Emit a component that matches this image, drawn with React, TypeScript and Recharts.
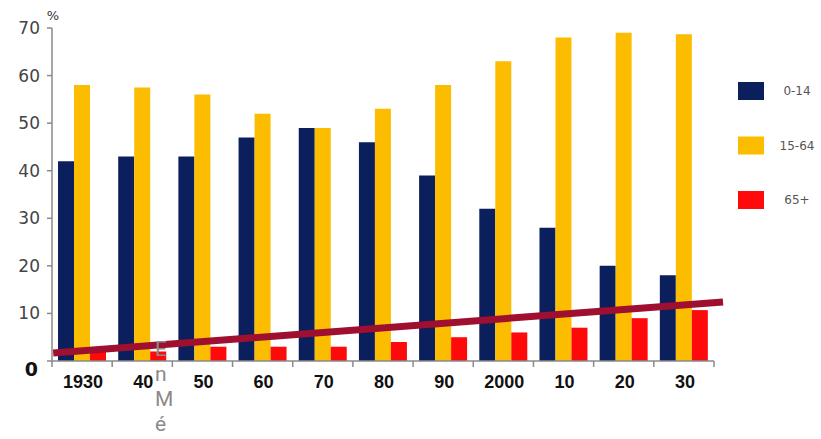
import { BarChart, Bar, XAxis, YAxis, ReferenceLine } from 'recharts'

const decades = ['1930', '40', '50', '60', '70', '80', '90', '2000', '10', '20', '30']
const age0to14 = [42, 43, 43, 47, 49, 46, 39, 32, 28, 20, 18]
const age15to64 = [58, 57.5, 56, 52, 49, 53, 58, 63, 68, 69, 68.7]
const age65plus = [2.5, 2, 3, 3, 3, 4, 5, 6, 7, 9, 10.7]
const yTicks = [0, 10, 20, 30, 40, 50, 60, 70]

// trend line for 65+, x measured in decade slots from the left edge of 1930
const trendX = [0.02, 11.15]
const trendY = [1.7, 12.4]
const slotTicks = [0, 11]

const stray = ['E', 'n', 'M', 'é']
const strayBaselines = [356, 381, 406, 431]

const series = [
  { key: 'young', name: '0-14', color: '#0b1f5c', values: age0to14 },
  { key: 'working', name: '15-64', color: '#fcbd00', values: age15to64 },
  { key: 'old', name: '65+', color: '#fe0a0a', values: age65plus },
]

const data = decades.map((decade, i) => {
  const row: Record<string, string | number> = { decade, slot: i + 0.5 }
  series.forEach((s) => {
    row[s.key] = s.values[i]
  })
  return row
})

const W = 821
const H = 439
const PLOT_LEFT = 52
const PLOT_RIGHT = 714
const PLOT_BOTTOM = 361
const SLOT = (PLOT_RIGHT - PLOT_LEFT) / decades.length
const AXIS = '#8a8a8a'

function YTick({ y, payload }: any) {
  const zero = payload.value === 0
  return (
    <g>
      <line x1={PLOT_LEFT - 5} x2={PLOT_LEFT} y1={y} y2={y} stroke={AXIS} strokeWidth={1.5} />
      <text
        x={zero ? 38 : 40}
        y={zero ? y + 8 : y}
        textAnchor="end"
        dominantBaseline="central"
        fontFamily="DejaVu Sans"
        fontSize={zero ? 19 : 17}
        fontWeight={zero ? 700 : 400}
        fill={zero ? '#111' : '#444'}
      >
        {payload.value}
      </text>
    </g>
  )
}

function XTick({ x, payload, index }: any) {
  const left = x - SLOT / 2
  const last = index === decades.length - 1
  return (
    <g>
      <line x1={left} x2={left} y1={PLOT_BOTTOM} y2={PLOT_BOTTOM + 6} stroke={AXIS} strokeWidth={1.5} />
      {last && (
        <line x1={x + SLOT / 2} x2={x + SLOT / 2} y1={PLOT_BOTTOM} y2={PLOT_BOTTOM + 6} stroke={AXIS} strokeWidth={1.5} />
      )}
      <text
        x={x + 1}
        y={PLOT_BOTTOM + 27}
        textAnchor="middle"
        fontFamily="Liberation Sans"
        fontSize={18}
        fontWeight={700}
        fill="#111"
      >
        {payload.value}
      </text>
    </g>
  )
}

export default function App() {
  return (
    <div style={{ position: 'absolute', left: 0, top: 0, width: W, height: H, background: '#fff' }}>
      <BarChart
        width={W}
        height={H}
        data={data}
        margin={{ top: 28, right: W - PLOT_RIGHT, left: 0, bottom: 48 }}
        barCategoryGap="10%"
        barGap={0}
      >
        <XAxis
          dataKey="decade"
          axisLine={{ stroke: AXIS, strokeWidth: 1.5 }}
          tickLine={false}
          tick={<XTick />}
          interval={0}
          height={30}
        />
        <XAxis
          xAxisId="trend"
          dataKey="slot"
          type="number"
          scale="linear"
          domain={[0, 11]}
          ticks={slotTicks}
          allowDataOverflow
          hide
        />
        <YAxis
          width={PLOT_LEFT}
          domain={[0, 70]}
          ticks={yTicks}
          axisLine={{ stroke: AXIS, strokeWidth: 1.5 }}
          tickLine={false}
          tick={<YTick />}
          interval={0}
        />
        {series.map((s) => (
          <Bar key={s.key} dataKey={s.key} name={s.name} fill={s.color} isAnimationActive={false} />
        ))}
        <ReferenceLine
          xAxisId="trend"
          segment={[
            { x: trendX[0], y: trendY[0] },
            { x: trendX[1], y: trendY[1] },
          ]}
          stroke="#9e0f30"
          strokeWidth={7}
          ifOverflow="visible"
        />
      </BarChart>

      <svg width={W} height={H} style={{ position: 'absolute', left: 0, top: 0, pointerEvents: 'none' }}>
        <text x={53} y={20} textAnchor="middle" fontFamily="DejaVu Sans" fontSize={13} fill="#333">
          %
        </text>
        {series.map((s, i) => (
          <g key={s.key}>
            <rect x={738} y={82 + i * 54.5} width={26} height={18} fill={s.color} />
            <text
              x={797}
              y={91 + i * 54.5}
              textAnchor="middle"
              dominantBaseline="central"
              fontFamily="DejaVu Sans"
              fontSize={12}
              fill="#555"
            >
              {s.name}
            </text>
          </g>
        ))}
        {stray.map((ch, i) => (
          <text key={i} x={155} y={strayBaselines[i]} fontFamily="Roboto" fontSize={21} fill="#8a8a8a">
            {ch}
          </text>
        ))}
      </svg>
    </div>
  )
}
